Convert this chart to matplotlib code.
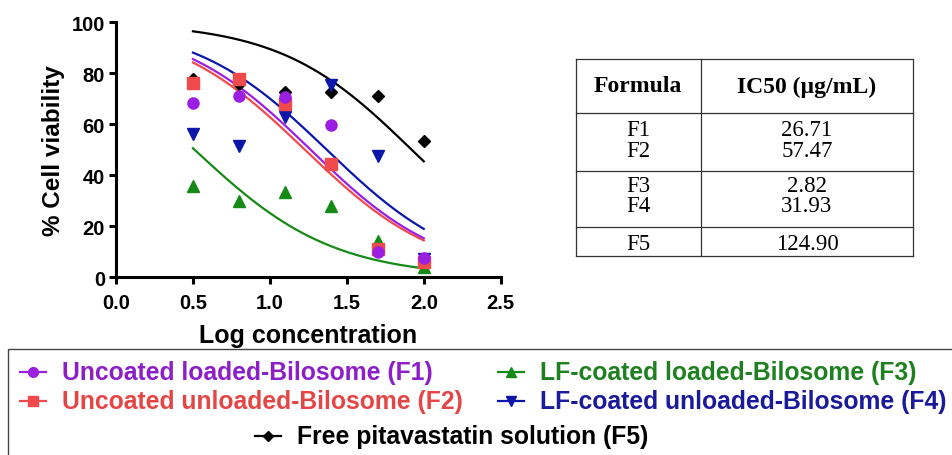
import numpy as np
import matplotlib
matplotlib.use("Agg")
import matplotlib.pyplot as plt
from matplotlib.lines import Line2D
from matplotlib.patches import Rectangle

# data
log_conc = [0.5, 0.8, 1.1, 1.4, 1.7, 2.0]
f1_viab = [68.5, 71.0, 70.8, 59.7, 9.8, 7.7]
f2_viab = [76.2, 77.8, 68.0, 44.4, 11.1, 6.1]
f3_viab = [35.7, 30.0, 33.3, 28.1, 14.4, 3.9]
f4_viab = [56.2, 51.4, 62.7, 75.4, 47.7, 7.0]
f5_viab = [77.8, 75.8, 72.8, 72.5, 71.2, 53.3]

# fitted dose-response curves (normalized, variable slope): logIC50 and hill slope
fit_log_ic50 = [1.265, 1.228, 0.511, 1.37, 1.922]
fit_hill = [1.01, 1.0, 0.967, 1.0, 1.01]

labels = ["Uncoated loaded-Bilosome (F1)", "Uncoated unloaded-Bilosome (F2)",
          "LF-coated loaded-Bilosome (F3)", "LF-coated unloaded-Bilosome (F4)",
          "Free pitavastatin solution (F5)"]

table_formula = ["F1", "F2", "F3", "F4", "F5"]
table_ic50 = ["26.71", "57.47", "2.82", "31.93", "124.90"]
# rows sharing one ruled cell in the table
table_groups = [[0, 1], [2, 3], [4]]

colors = ["#9a1fe0", "#f04a4c", "#168a16", "#0c16a8", "#000000"]
text_colors = ["#8c1fc8", "#e44646", "#1e8020", "#1a1a9a", "#000000"]
markers = ["o", "s", "^", "v", "D"]
msizes = [8, 8, 8, 8, 6.5]

W, H = 952, 456
fig = plt.figure(figsize=(W / 100, H / 100), dpi=100)
ax = fig.add_axes([116 / W, 1 - 278.3 / H, (500.7 - 116) / W, (278.3 - 23.3) / H])

sans = "Liberation Sans"
serif = "Liberation Serif"

all_viab = [f1_viab, f2_viab, f3_viab, f4_viab, f5_viab]
xs = np.linspace(0.5, 2.0, 200)
for i in [4, 3, 2, 1, 0]:
    ax.plot(log_conc, all_viab[i], linestyle="none", marker=markers[i],
            ms=msizes[i], color=colors[i], zorder=3 + (4 - i) * 0.1)
for i in [4, 2, 3, 1, 0]:
    curve = 100 / (1 + 10 ** ((xs - fit_log_ic50[i]) * fit_hill[i]))
    ax.plot(xs, curve, color=colors[i], lw=1.6, zorder=2)

ax.set_xlim(0, 2.5)
ax.set_ylim(0, 100)
ax.set_xticks([0.0, 0.5, 1.0, 1.5, 2.0, 2.5])
ax.set_yticks([0, 20, 40, 60, 80, 100])
ax.set_xticklabels(["0.0", "0.5", "1.0", "1.5", "2.0", "2.5"])
for s in ["top", "right"]:
    ax.spines[s].set_visible(False)
for s in ["left", "bottom"]:
    ax.spines[s].set_linewidth(2.2)
ax.tick_params(direction="out", length=5, width=2.2)
ax.tick_params(axis="x", pad=6)
ax.tick_params(axis="y", pad=3)
for lab in ax.get_xticklabels() + ax.get_yticklabels():
    lab.set_fontfamily(sans)
    lab.set_fontweight("bold")
    lab.set_fontsize(14.5)
ax.set_xlabel("Log concentration", fontfamily=sans, fontweight="bold", fontsize=18, labelpad=8)
ax.set_ylabel("% Cell viability", fontfamily=sans, fontweight="bold", fontsize=17.5, labelpad=5)


def fx(x):
    return x / W


def fy(y):
    return 1 - y / H


# IC50 table
tl, tm, tr = 576, 701, 913
row_lines = [60, 114, 172, 228, 257]
group_centers = [141, 196.5, 244.5]
for y in row_lines:
    fig.add_artist(Line2D([fx(tl), fx(tr)], [fy(y), fy(y)], color="#333333", lw=0.9))
for x in [tl, tm, tr]:
    fig.add_artist(Line2D([fx(x), fx(x)], [fy(60), fy(257)], color="#333333", lw=0.9))
fig.text(fx(638), fy(87), "Formula", ha="center", va="center", fontfamily=serif,
         fontweight="bold", fontsize=17)
fig.text(fx(807), fy(87), "IC50 (\u00b5g/mL)", ha="center", va="center", fontfamily=serif,
         fontweight="bold", fontsize=17)
for grp, yc in zip(table_groups, group_centers):
    names = "\n".join(table_formula[j] for j in grp)
    vals = "\n".join(table_ic50[j] for j in grp)
    fig.text(fx(638), fy(yc), names, ha="center", va="center", fontfamily=serif,
             fontsize=16.5, linespacing=0.95, multialignment="center")
    fig.text(fx(807), fy(yc), vals, ha="center", va="center", fontfamily=serif,
             fontsize=16.5, linespacing=0.95, multialignment="center")

# legend box and entries
fig.add_artist(Rectangle((fx(8), fy(470)), fx(960), fy(350) - fy(470), fill=False,
                         edgecolor="#444444", lw=1.0, transform=fig.transFigure))
leg_pos = [(20, 373), (20, 402), (498, 373), (498, 402), (255, 437)]
for i, (x0, y0) in enumerate(leg_pos):
    fig.add_artist(Line2D([fx(x0), fx(x0 + 26)], [fy(y0), fy(y0)], color=colors[i], lw=1.6))
    fig.add_artist(Line2D([fx(x0 + 13)], [fy(y0)], marker=markers[i], ms=msizes[i] - 1,
                          color=colors[i], linestyle="none"))
    fig.text(fx(x0 + 42), fy(y0), labels[i], ha="left", va="center", color=text_colors[i],
             fontfamily=sans, fontweight="bold", fontsize=17.8)

fig.savefig("out.png", dpi=100)
